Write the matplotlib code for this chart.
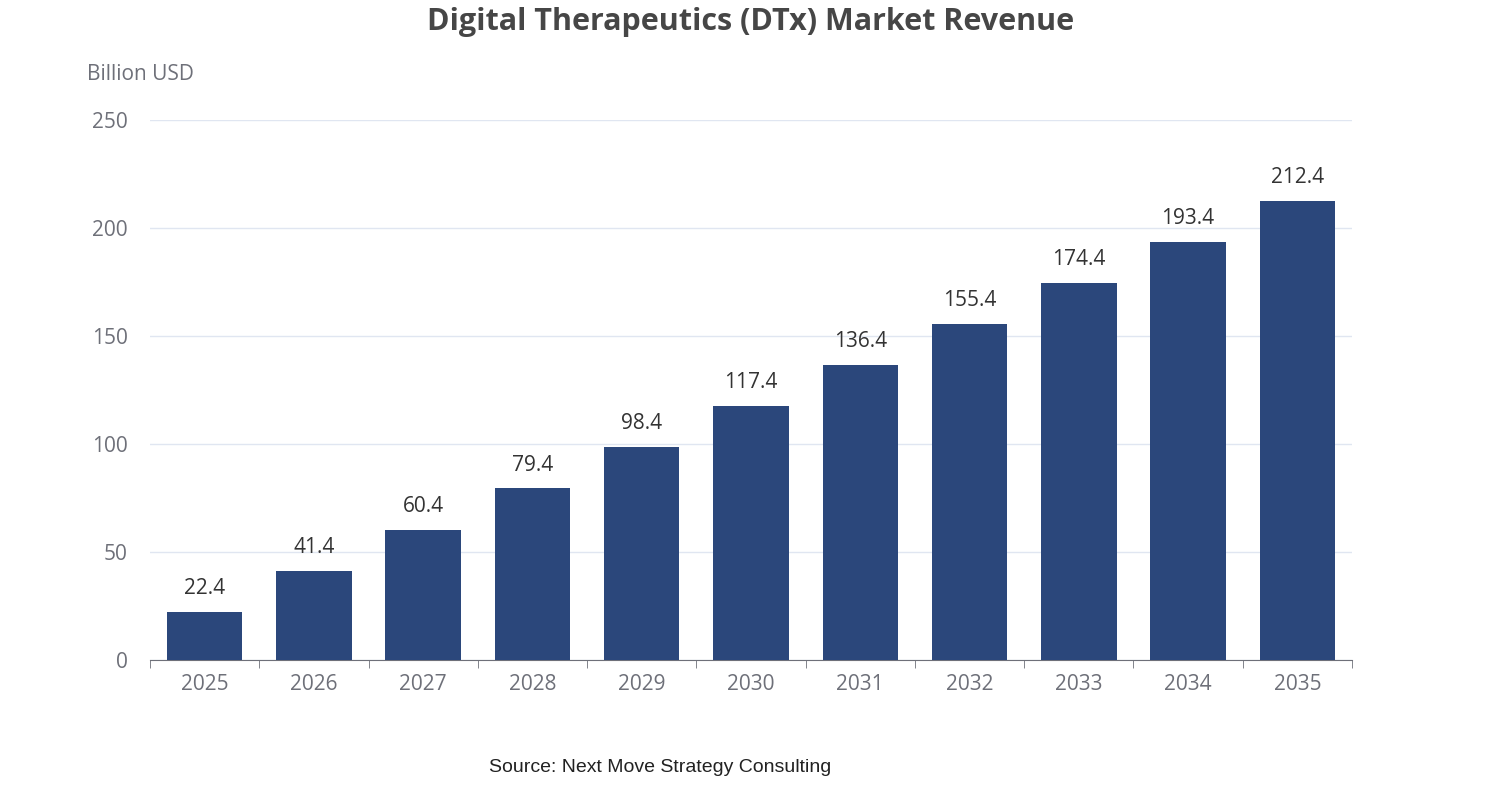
import matplotlib.pyplot as plt

years = ["2025", "2026", "2027", "2028", "2029", "2030", "2031", "2032", "2033", "2034", "2035"]
revenue = [22.4, 41.4, 60.4, 79.4, 98.4, 117.4, 136.4, 155.4, 174.4, 193.4, 212.4]
yticks = [0, 50, 100, 150, 200, 250]

plt.rcParams['font.family'] = ['Open Sans', 'DejaVu Sans']
fig = plt.figure(figsize=(15.02, 8), dpi=100)
ax = fig.add_axes([150 / 1502, 140 / 800, 1202 / 1502, 540 / 800])

x = list(range(len(years)))
bars = ax.bar(x, revenue, width=0.69, color="#2b477b", zorder=3)
for xi, v in zip(x, revenue):
    ax.text(xi, v + 6, f"{v:.1f}", ha="center", va="bottom", fontsize=15, color="#333333")

ax.set_xlim(-0.5, len(years) - 0.5)
ax.set_ylim(0, 250)
ax.set_yticks(yticks)
ax.set_yticklabels([str(t) for t in yticks], fontsize=15, color="#6e7079")
ax.tick_params(axis="y", length=0, pad=16)
ax.set_xticks(x)
ax.set_xticklabels(years, fontsize=15, color="#6e7079")
ax.set_xticks([i - 0.5 for i in range(len(years) + 1)], minor=True)
ax.tick_params(axis="x", which="major", length=0, pad=10)
ax.tick_params(axis="x", which="minor", length=6, color="#6e7079")
ax.grid(axis="y", color="#e0e6f1", linewidth=1, zorder=0)
for s in ["top", "right", "left"]:
    ax.spines[s].set_visible(False)
ax.spines["bottom"].set_color("#6e7079")

fig.text(0.5, 1 - 22 / 800, "Digital Therapeutics (DTx) Market Revenue", ha="center", va="center",
         fontsize=22, fontweight="bold", color="#464646")
fig.text(87 / 1502, 1 - 75 / 800, "Billion USD", ha="left", va="center", fontsize=15, color="#6e7079")
fig.text(660 / 1502, 1 - 767 / 800, "Source: Next Move Strategy Consulting", ha="center", va="center",
         fontsize=14, color="#222222", family=["Liberation Sans", "DejaVu Sans"])

fig.savefig("out.png", dpi=100)
